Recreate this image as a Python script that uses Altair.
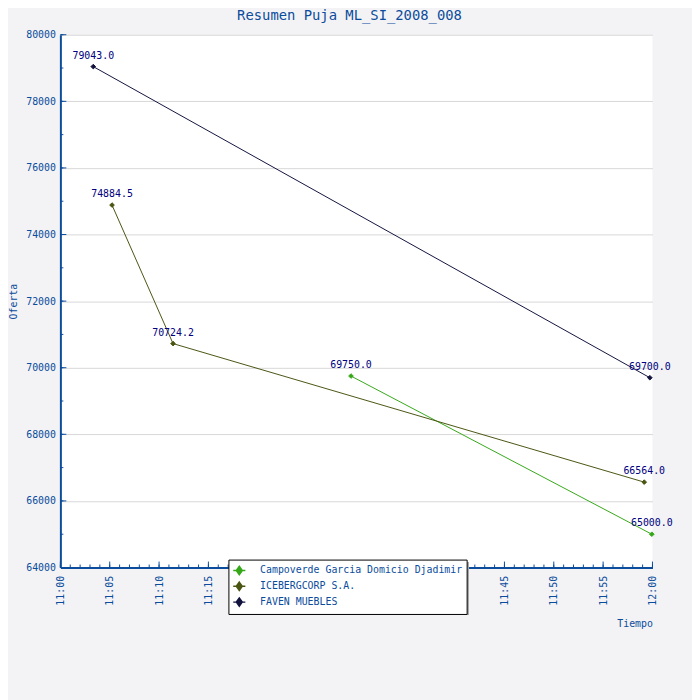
import altair as alt
import pandas as pd

# ---- data ----
series_order = ["Campoverde Garcia Domicio Djadimir", "ICEBERGCORP S.A.", "FAVEN MUEBLES"]
series_colors = ["#36a818", "#4a5512", "#12123f"]

campoverde_times = ["11:29:27", "11:59:56"]
campoverde_values = [69750.0, 65000.0]

iceberg_times = ["11:05:14", "11:11:25", "11:59:10"]
iceberg_values = [74884.5, 70724.2, 66564.0]

faven_times = ["11:03:20", "11:59:44"]
faven_values = [79043.0, 69700.0]

major_minutes = [0, 5, 10, 15, 20, 25, 30, 35, 40, 45, 50, 55, 60]
minor_minutes = list(range(0, 61))
y_major = [64000, 66000, 68000, 70000, 72000, 74000, 76000, 78000, 80000]
y_minor = list(range(64000, 80001, 1000))

DAY = "2008-01-01T"

rows = []
for name, ts, vs in [
    (series_order[0], campoverde_times, campoverde_values),
    (series_order[1], iceberg_times, iceberg_values),
    (series_order[2], faven_times, faven_values),
]:
    for t, v in zip(ts, vs):
        rows.append({"Postor": name, "Tiempo": DAY + t, "Oferta": v})
df = pd.DataFrame(rows)

def minute_stamp(m):
    h = 11 + m // 60
    return f"{DAY}{h:02d}:{m % 60:02d}:00"

xmaj = pd.DataFrame({"t": [minute_stamp(m) for m in major_minutes]})
xmin = pd.DataFrame({"t": [minute_stamp(m) for m in minor_minutes]})
ymaj = pd.DataFrame({"v": y_major})
ymin = pd.DataFrame({"v": y_minor})

W, H = 599, 539
BLUE = "#0b4c9c"
MONO = "DejaVu Sans Mono"

x_scale = alt.Scale(domain=[DAY + "11:00:00", DAY + "12:00:00"], nice=False)
y_scale = alt.Scale(domain=[64000, 80000], nice=False, zero=False)
col_scale = alt.Scale(domain=series_order, range=series_colors)

x_axis_vals = [alt.DateTime(year=2008, month=1, date=1, hours=11 + m // 60, minutes=m % 60) for m in major_minutes]

x_enc = alt.X("Tiempo:T", scale=x_scale,
              axis=alt.Axis(values=x_axis_vals, format="%H:%M", labelAngle=270,
                            labelAlign="right", labelBaseline="middle", labelPadding=8,
                            tickSize=0, grid=False, domainColor=BLUE, domainWidth=2,
                            labelColor=BLUE, labelFont=MONO, labelFontSize=10,
                            title="Tiempo", titleAnchor="end", titleColor=BLUE,
                            titleFont=MONO, titleFontSize=10, titleFontWeight="normal",
                            titlePadding=14, labelFlush=False))
y_enc = alt.Y("Oferta:Q", scale=y_scale,
              axis=alt.Axis(values=y_major, format="d", tickSize=0, grid=True,
                            gridColor="#d8d8d8",
                            domainColor=BLUE, domainWidth=2, labelColor=BLUE,
                            labelFont=MONO, labelFontSize=10, labelPadding=5,
                            title="Oferta", titleColor=BLUE, titleFont=MONO,
                            titleFontSize=10, titleFontWeight="normal", titlePadding=7,
                            labelFlush=False))

leg = alt.Legend(title=None, orient="none", legendX=170, legendY=531,
                 fillColor="white", strokeColor="black", padding=4,
                 rowPadding=0, symbolSize=150, symbolStrokeWidth=1.4,
                 symbolType="M-1,0L1,0M0,-0.7L0.5,0L0,0.7L-0.5,0Z",
                 labelColor=BLUE, labelFont=MONO, labelFontSize=10,
                 labelLimit=400, labelOffset=14)

line = alt.Chart(df).mark_line(strokeWidth=1).encode(
    x=x_enc, y=y_enc,
    stroke=alt.Stroke("Postor:N", scale=col_scale, legend=leg),
    detail="Postor:N",
)

pts = alt.Chart(df).mark_point(shape="diamond", filled=True, size=22, strokeWidth=1, opacity=1).encode(
    x="Tiempo:T", y="Oferta:Q",
    fill=alt.Fill("Postor:N", scale=col_scale, legend=leg),
    stroke=alt.Stroke("Postor:N", scale=col_scale, legend=leg),
)

labels = alt.Chart(df).mark_text(dy=-8, baseline="alphabetic", align="center",
                                 font=MONO, fontSize=10, color="#000080").encode(
    x="Tiempo:T", y="Oferta:Q", text=alt.Text("Oferta:Q", format=".1f"))

xmaj_ticks = alt.Chart(xmaj).mark_rule(color=BLUE, strokeWidth=1).encode(
    x="t:T", y=alt.value(H), y2=alt.value(H - 6))
xmin_ticks = alt.Chart(xmin).mark_rule(color=BLUE, strokeWidth=1).encode(
    x="t:T", y=alt.value(H), y2=alt.value(H - 3))
ymaj_ticks = alt.Chart(ymaj).mark_rule(color=BLUE, strokeWidth=1).encode(
    y="v:Q", x=alt.value(0), x2=alt.value(6))
ymin_ticks = alt.Chart(ymin).mark_rule(color=BLUE, strokeWidth=1).encode(
    y="v:Q", x=alt.value(0), x2=alt.value(3))

shadow = alt.Chart(ymaj).mark_rect(color="#a8a8a8").encode(
    x=alt.value(174), x2=alt.value(413), y=alt.value(534), y2=alt.value(587))

chart = alt.layer(
    line, pts, labels, xmin_ticks, xmaj_ticks, ymin_ticks, ymaj_ticks, shadow
).properties(
    width=W, height=H,
    title=alt.TitleParams("Resumen Puja ML_SI_2008_008", font=MONO, fontSize=14,
                          fontWeight="normal", color=BLUE, offset=7, dx=-7),
    autosize=alt.AutoSizeParams(type="none"),
    padding={"left": 53, "top": 23, "right": 40, "bottom": 130},
    background="#f3f3f5",
).configure_view(stroke=None, fill="white")

chart.save("out.html", embed_options={"renderer": "svg", "actions": False})
